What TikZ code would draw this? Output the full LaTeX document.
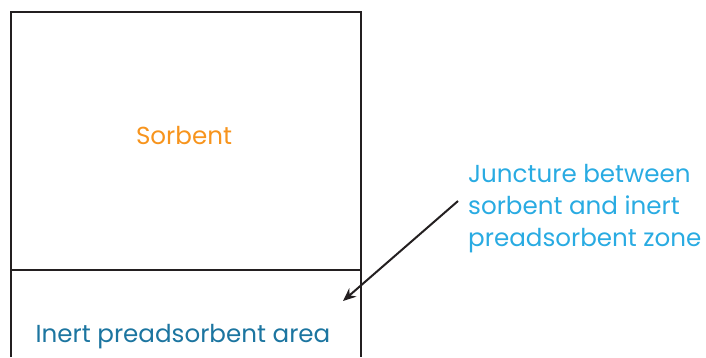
\documentclass[tikz,border=0pt]{standalone}
\usepackage{fontspec}
\setmainfont{Poppins}
\usetikzlibrary{arrows.meta}
\definecolor{sorb}{HTML}{F7941D}
\definecolor{inert}{HTML}{1C75A0}
\definecolor{junc}{HTML}{29ABE2}
\definecolor{edge}{HTML}{231F20}
\begin{document}
\begin{tikzpicture}[x=1pt,y=-1pt,
  lbl/.style={font=\fontsize{24.6}{32}\selectfont, inner sep=0pt},
  box/.style={draw=edge, line width=2.3pt}]
\useasboundingbox (0,0) rectangle (706,357);
\draw[box] (11,357) -- (11,12) -- (361,12) -- (361,357);
\draw[box] (11,270) -- (361,270);
\node[lbl, text=sorb] (s) at (184,136) {Sorbent};
\node[lbl, text=inert] (i) at (183,337) {Inert preadsorbent area};
\node[lbl, text=junc, align=left, anchor=west] (j) at (468,209) {Juncture between\\sorbent and inert\\preadsorbent zone};
\coordinate (tip) at (343,301);
\draw[edge, line width=2pt, -{Stealth[length=13pt,width=11pt]}] (j.west)++(-10,-8) coordinate (st) -- (tip);
\end{tikzpicture}
\end{document}
